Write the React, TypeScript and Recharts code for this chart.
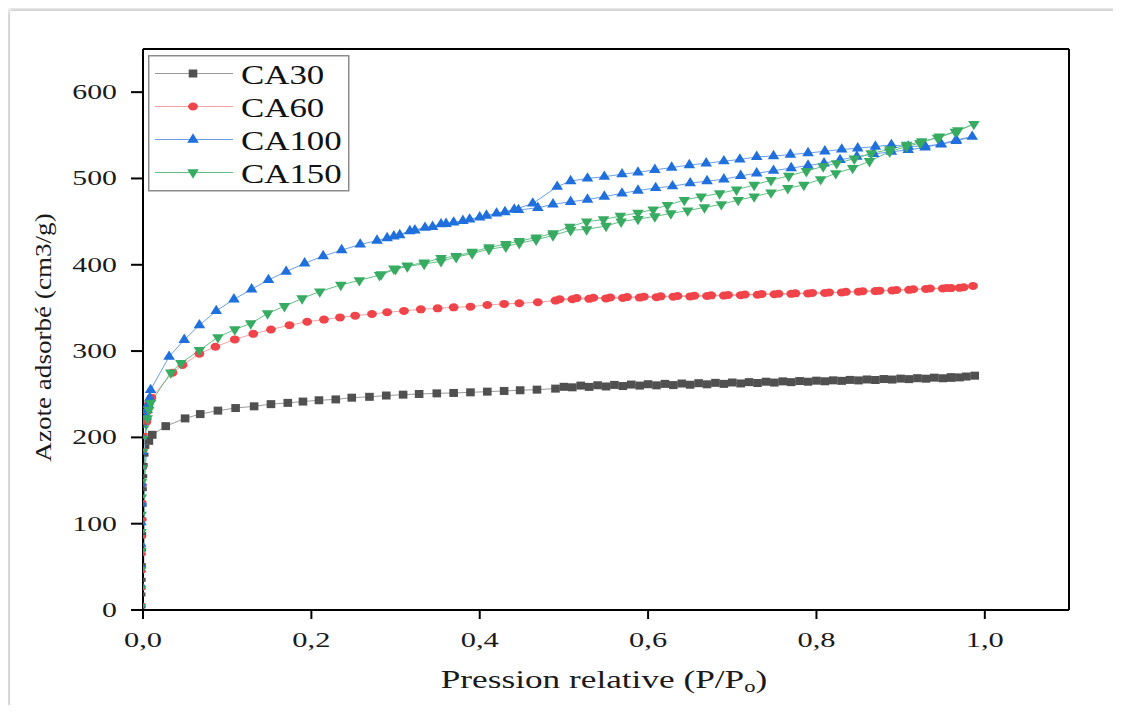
import React from 'react';
import { LineChart, Line, XAxis, YAxis, ReferenceLine, Legend, Label } from 'recharts';

// Isotherm points as [P/P0, volume adsorbed]
const ca30Adsorption: [number, number][] = [
  [0.0002, 4], [0.0004, 18], [0.0006, 35], [0.0008, 52], [0.001, 70], [0.0012, 88], [0.0014, 105],
  [0.0017, 122], [0.002, 140], [0.0025, 155], [0.003, 168], [0.004, 180], [0.005, 189], [0.007, 196],
  [0.011, 203], [0.027, 213], [0.05, 222], [0.068, 227], [0.089, 231], [0.11, 234], [0.132, 236],
  [0.152, 238.5], [0.172, 240], [0.19, 241.5], [0.209, 243], [0.229, 244], [0.248, 246], [0.269, 247],
  [0.289, 248.5], [0.309, 249.5], [0.328, 250.3], [0.349, 251], [0.369, 251.5], [0.389, 252.2],
  [0.409, 253], [0.429, 253.8], [0.448, 254.6], [0.468, 255.3], [0.49, 256.5], [0.51, 258], [0.53, 258.5],
  [0.55, 259], [0.57, 259.5], [0.59, 260], [0.61, 260.3], [0.63, 260.6], [0.65, 261], [0.67, 261.5],
  [0.69, 262], [0.71, 262.5], [0.73, 263], [0.75, 263.5], [0.77, 264], [0.79, 264.5], [0.81, 265],
  [0.83, 265.5], [0.85, 266], [0.87, 266.5], [0.89, 267], [0.91, 267.5], [0.93, 268], [0.95, 268.5],
  [0.96, 269], [0.97, 269.5], [0.988, 271.5],
];
const ca30Desorption: [number, number][] = [
  [0.978, 270.5], [0.96, 269.8], [0.94, 269.2], [0.92, 268.6], [0.9, 268.1], [0.88, 267.6], [0.86, 267.1],
  [0.84, 266.6], [0.82, 266.1], [0.8, 265.7], [0.78, 265.3], [0.76, 264.9], [0.74, 264.5], [0.72, 264],
  [0.7, 263.6], [0.68, 263.2], [0.66, 262.8], [0.64, 262.4], [0.62, 262], [0.6, 261.6], [0.58, 261.2],
  [0.56, 260.8], [0.54, 260.4], [0.52, 260], [0.5, 258.6],
];

const ca60Adsorption: [number, number][] = [
  [0.0002, 6], [0.0004, 25], [0.0006, 45], [0.0008, 65], [0.001, 85], [0.0012, 105], [0.0014, 125],
  [0.0017, 145], [0.002, 165], [0.0025, 185], [0.003, 203], [0.004, 218], [0.005, 230], [0.007, 239],
  [0.01, 246], [0.035, 275], [0.047, 284], [0.067, 297], [0.086, 305], [0.109, 313.5], [0.131, 320],
  [0.152, 325], [0.174, 330], [0.195, 334], [0.215, 336.5], [0.234, 339], [0.252, 341], [0.272, 343],
  [0.29, 345], [0.31, 346.5], [0.33, 348.4], [0.35, 349.5], [0.369, 350.7], [0.389, 351.5], [0.409, 353.4],
  [0.429, 354.6], [0.447, 355.4], [0.469, 356.6], [0.49, 358.5], [0.51, 360], [0.53, 360.5], [0.55, 361],
  [0.57, 361.5], [0.59, 362], [0.61, 362.5], [0.63, 363], [0.65, 363.3], [0.67, 363.8], [0.69, 364.3],
  [0.71, 364.8], [0.73, 365.3], [0.75, 365.8], [0.77, 366.3], [0.79, 366.8], [0.81, 367.3], [0.83, 368],
  [0.85, 368.8], [0.87, 369.5], [0.89, 370.3], [0.91, 371], [0.93, 372], [0.95, 372.5], [0.96, 373],
  [0.97, 373.3], [0.986, 375.5],
];
const ca60Desorption: [number, number][] = [
  [0.975, 374], [0.955, 373.2], [0.935, 372.5], [0.915, 371.6], [0.895, 370.8], [0.875, 370], [0.855, 369.3],
  [0.835, 368.6], [0.815, 368], [0.795, 367.4], [0.775, 366.9], [0.755, 366.4], [0.735, 366], [0.715, 365.5],
  [0.695, 365], [0.675, 364.6], [0.655, 364.2], [0.635, 363.8], [0.615, 363.4], [0.595, 363], [0.575, 362.6],
  [0.555, 362.2], [0.535, 361.8], [0.515, 361.4], [0.495, 360],
];

const ca100Adsorption: [number, number][] = [
  [0.0002, 5], [0.0004, 28], [0.0006, 50], [0.0008, 75], [0.001, 100], [0.0012, 122], [0.0014, 145],
  [0.0017, 165], [0.002, 182], [0.0025, 200], [0.003, 213], [0.004, 224], [0.005, 232], [0.006, 238],
  [0.008, 245.6], [0.009, 255], [0.031, 293.5], [0.049, 313], [0.067, 330], [0.087, 346.5], [0.108, 360],
  [0.129, 371.6], [0.149, 382.4], [0.17, 392], [0.192, 401.7], [0.214, 410], [0.236, 417], [0.258, 423.5],
  [0.278, 428], [0.298, 433], [0.317, 439], [0.335, 443], [0.354, 447], [0.369, 449], [0.388, 452.5],
  [0.408, 457], [0.43, 461], [0.446, 463.5], [0.469, 466], [0.487, 470], [0.508, 473], [0.528, 475.6],
  [0.548, 479], [0.569, 482.7], [0.588, 486], [0.609, 489], [0.629, 491], [0.65, 494.5], [0.67, 497],
  [0.69, 499], [0.71, 503], [0.729, 506], [0.749, 509], [0.77, 512], [0.79, 515], [0.809, 517.6],
  [0.828, 521.5], [0.848, 525.3], [0.868, 528.4], [0.889, 531], [0.909, 533], [0.929, 536], [0.948, 540],
  [0.966, 544.6], [0.985, 548.4],
];
const ca100Desorption: [number, number][] = [
  [0.966, 543.5], [0.948, 539.5], [0.929, 537.7], [0.909, 537], [0.889, 538.8], [0.87, 537], [0.849, 535],
  [0.83, 533.6], [0.81, 531.5], [0.79, 529.5], [0.769, 527.6], [0.749, 526], [0.729, 525], [0.709, 522],
  [0.69, 520], [0.669, 517.6], [0.649, 515.6], [0.628, 512.6], [0.608, 510], [0.588, 507], [0.569, 505],
  [0.548, 502], [0.528, 500], [0.508, 497], [0.492, 490.5], [0.463, 471], [0.441, 464], [0.42, 459.5],
  [0.4, 455], [0.38, 451], [0.36, 447.5], [0.344, 444], [0.323, 440], [0.305, 434.5], [0.29, 431],
];

const ca150Adsorption: [number, number][] = [
  [0.0002, 5], [0.0004, 26], [0.0006, 48], [0.0008, 70], [0.001, 92], [0.0012, 112], [0.0014, 132],
  [0.0017, 150], [0.002, 166], [0.0025, 185], [0.003, 200], [0.004, 212], [0.005, 222], [0.007, 232],
  [0.009, 240], [0.033, 275], [0.045, 286], [0.067, 301], [0.089, 316], [0.109, 325], [0.128, 332],
  [0.148, 343.6], [0.168, 352], [0.189, 361], [0.21, 369], [0.235, 376.6], [0.257, 382], [0.281, 388],
  [0.3, 394.8], [0.314, 398], [0.334, 401], [0.354, 404], [0.372, 408.8], [0.391, 413], [0.411, 418],
  [0.431, 421], [0.447, 425], [0.467, 429], [0.487, 434], [0.508, 440], [0.527, 441], [0.55, 445],
  [0.568, 450], [0.588, 453], [0.608, 456], [0.627, 459.5], [0.647, 462.8], [0.667, 466.5], [0.687, 470],
  [0.707, 475], [0.726, 479], [0.746, 483.7], [0.766, 488.7], [0.785, 492.5], [0.805, 499], [0.823, 506],
  [0.843, 512], [0.863, 520], [0.887, 531], [0.907, 537], [0.923, 541], [0.946, 548.4], [0.968, 555.6],
  [0.987, 563],
];
const ca150Desorption: [number, number][] = [
  [0.965, 554], [0.944, 547], [0.925, 543], [0.907, 538.8], [0.887, 533.6], [0.865, 529], [0.845, 523],
  [0.824, 517.5], [0.808, 514], [0.788, 508.5], [0.767, 503], [0.746, 498], [0.726, 492.5], [0.705, 487],
  [0.685, 482.7], [0.663, 479], [0.643, 475], [0.623, 469], [0.606, 464], [0.588, 460], [0.567, 456.5],
  [0.547, 452.5], [0.527, 450], [0.507, 444], [0.487, 436.5], [0.467, 431.5], [0.447, 427.5], [0.431, 424],
  [0.411, 420], [0.391, 415], [0.372, 410], [0.354, 407.6], [0.334, 402.5], [0.314, 399], [0.298, 395.5],
  [0.283, 389],
];

const xTicks = [0, 0.2, 0.4, 0.6, 0.8, 1.0];
const yTicks = [0, 100, 200, 300, 400, 500, 600];

const SERIF = '"Liberation Serif", "Times New Roman", serif';

const toRows = (ads: [number, number][], des: [number, number][]) =>
  ads.concat(des).map(([p, v]) => ({ p, v }));

type Shape = 'square' | 'circle' | 'up' | 'down';

const markerPath = (shape: Shape, cx: number, cy: number, k: number, color: string, key?: string) => {
  if (shape === 'square') {
    const w = 8.6 * k, h = 8 * k;
    return <rect key={key} x={cx - w / 2} y={cy - h / 2} width={w} height={h} fill={color} />;
  }
  if (shape === 'circle') {
    return <ellipse key={key} cx={cx} cy={cy} rx={4.9 * k} ry={4 * k} fill={color} />;
  }
  const w = 11.6 * k, h = 9.4 * k;
  if (shape === 'up') {
    return <polygon key={key} points={`${cx},${cy - (2 * h) / 3} ${cx + w / 2},${cy + h / 3} ${cx - w / 2},${cy + h / 3}`} fill={color} />;
  }
  return <polygon key={key} points={`${cx},${cy + (2 * h) / 3} ${cx + w / 2},${cy - h / 3} ${cx - w / 2},${cy - h / 3}`} fill={color} />;
};

const makeDot = (shape: Shape, color: string) => (props: any) => {
  const { cx, cy, index, payload } = props;
  const key = `${shape}-${index}`;
  if (cx == null || cy == null) return <g key={key} />;
  // the near-vertical micropore rise is drawn with tiny markers in the original
  const k = payload && payload.p < 0.006 && payload.v < 215 ? 0.5 : 1;
  return markerPath(shape, cx, cy, k, color, key);
};

const seriesList = [
  { name: 'CA30', rows: toRows(ca30Adsorption, ca30Desorption), shape: 'square' as Shape, marker: '#505050', line: '#9a9a9a' },
  { name: 'CA60', rows: toRows(ca60Adsorption, ca60Desorption), shape: 'circle' as Shape, marker: '#f0444a', line: '#f5a3a3' },
  { name: 'CA100', rows: toRows(ca100Adsorption, ca100Desorption), shape: 'up' as Shape, marker: '#1f6fdc', line: '#6a9de9' },
  { name: 'CA150', rows: toRows(ca150Adsorption, ca150Desorption), shape: 'down' as Shape, marker: '#38ab62', line: '#62bf86' },
];

const XTick = (props: any) => {
  const { x, y, payload } = props;
  return (
    <g transform={`translate(${x},${y + 26}) scale(1.45,1)`}>
      <text textAnchor="middle" fontSize={21} fontFamily={SERIF} fill="#1a1a1a">
        {Number(payload.value).toFixed(1).replace('.', ',')}
      </text>
    </g>
  );
};

const YTick = (props: any) => {
  const { x, y, payload } = props;
  return (
    <g transform={`translate(${x - 12},${y + 7}) scale(1.42,1)`}>
      <text textAnchor="end" fontSize={21} fontFamily={SERIF} fill="#1a1a1a">
        {payload.value}
      </text>
    </g>
  );
};

const LegendBox = () => (
  <svg width={202} height={137} style={{ display: 'block' }}>
    <rect x={0.75} y={0.75} width={200} height={135} fill="#fff" stroke="#8c8c8c" strokeWidth={1.5} />
    {seriesList.map((s, i) => {
      const cy = 18.5 + i * 33;
      return (
        <g key={s.name}>
          <line x1={7} x2={85} y1={cy} y2={cy} stroke={s.line} strokeWidth={1.2} />
          {markerPath(s.shape, 45, cy, 1, s.marker)}
          <g transform={`translate(93,${cy + 10}) scale(1.29,1)`}>
            <text fontSize={27} fontFamily={SERIF} fill="#111">{s.name}</text>
          </g>
        </g>
      );
    })}
  </svg>
);

const App: React.FC = () => {
  return (
    <div style={{ position: 'relative', width: 1105, height: 697, overflow: 'hidden' }}>
      <div
        style={{
          position: 'absolute', left: 2, top: 3, width: 1200, height: 800,
          background: '#fff', boxShadow: '0 0 6px 1px rgba(0,0,0,0.32)',
        }}
      />
      <div style={{ position: 'absolute', left: 0, top: 0 }}>
        <LineChart width={1105} height={697} margin={{ top: 41, right: 44, bottom: 45, left: 75 }}>
          <XAxis
            dataKey="p"
            type="number"
            domain={[0, 1.1]}
            ticks={xTicks}
            height={50}
            tickSize={9}
            axisLine={{ stroke: '#000', strokeWidth: 2 }}
            tickLine={{ stroke: '#000', strokeWidth: 2 }}
            tick={<XTick />}
            allowDataOverflow
          >
            <Label
              content={(lp: any) => {
                const vb = lp.viewBox || { x: 0, y: 0, width: 0 };
                return (
                  <g transform={`translate(${vb.x + vb.width / 2 - 2},${vb.y + 78}) scale(1.41,1)`}>
                    <text textAnchor="middle" fontSize={25} fontFamily={SERIF} fill="#1a1a1a">
                      Pression relative (P/P<tspan fontSize={16} dy={4}>o</tspan><tspan dy={-4}>)</tspan>
                    </text>
                  </g>
                );
              }}
            />
          </XAxis>
          <YAxis
            type="number"
            domain={[0, 650]}
            ticks={yTicks}
            width={60}
            tickSize={12}
            axisLine={{ stroke: '#000', strokeWidth: 2 }}
            tickLine={{ stroke: '#000', strokeWidth: 2 }}
            tick={<YTick />}
            allowDataOverflow
          >
            <Label
              content={(lp: any) => {
                const vb = lp.viewBox || { x: 0, y: 0, height: 0 };
                return (
                  <g transform={`translate(${vb.x - 40},${vb.y + vb.height / 2 + 8}) rotate(-90) scale(1.13,1)`}>
                    <text textAnchor="middle" dominantBaseline="central" fontSize={24} fontFamily={SERIF} fill="#1a1a1a">
                      Azote adsorbé (cm3/g)
                    </text>
                  </g>
                );
              }}
            />
          </YAxis>
          <ReferenceLine y={650} stroke="#000" strokeWidth={2} />
          <ReferenceLine x={1.1} stroke="#000" strokeWidth={2} />
          {seriesList.map(s => (
            <Line
              key={s.name}
              name={s.name}
              data={s.rows}
              dataKey="v"
              type="linear"
              stroke={s.line}
              strokeWidth={1}
              dot={makeDot(s.shape, s.marker)}
              activeDot={false}
              isAnimationActive={false}
            />
          ))}
          <Legend
            layout="vertical"
            align="center"
            verticalAlign="middle"
            content={() => <LegendBox />}
            wrapperStyle={{ position: 'absolute', left: 140, top: 47, width: 202, height: 137 }}
          />
        </LineChart>
      </div>
    </div>
  );
};

export default App;
